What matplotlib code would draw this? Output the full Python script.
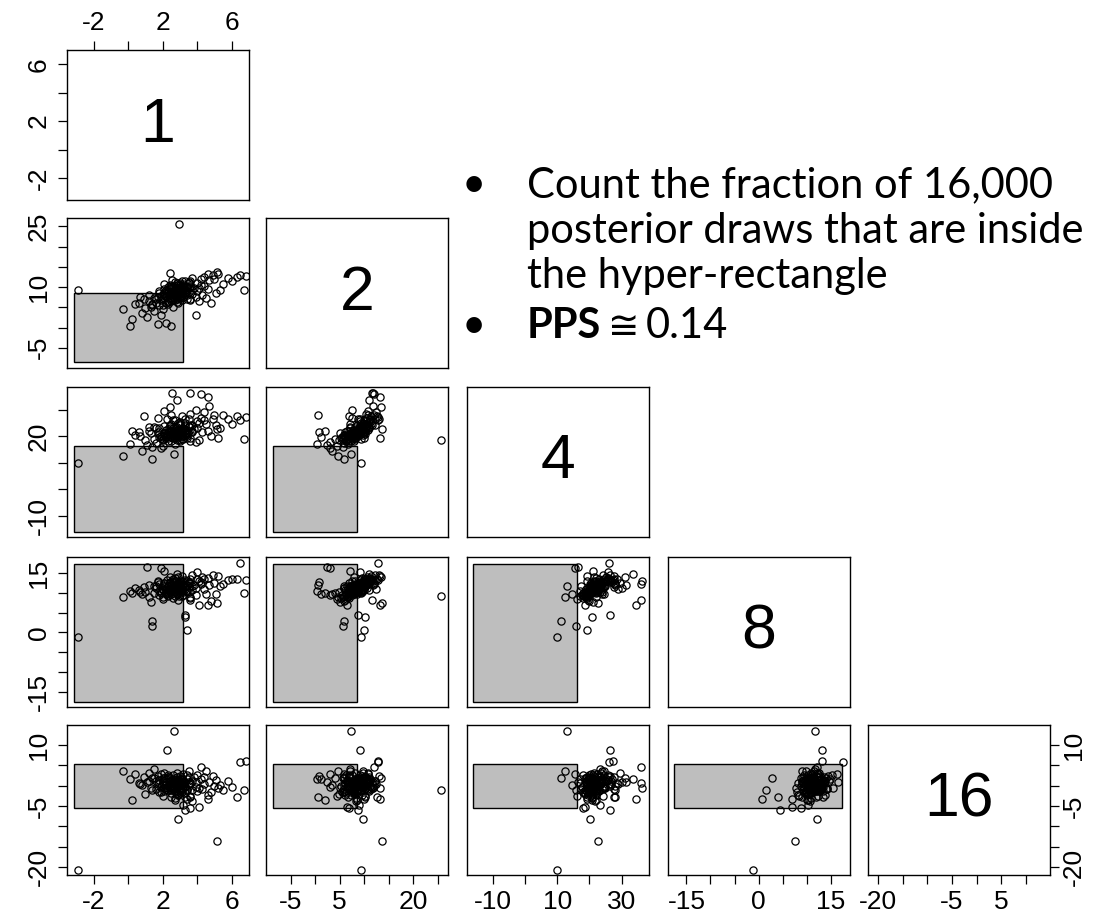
import numpy as np
import matplotlib.pyplot as plt
from matplotlib.patches import Rectangle

# posterior draws, one list per dimension (panel labels 1, 2, 4, 8, 16)
names = ['1', '2', '4', '8', '16']

v1 = [-2.9, 2.96, 2.68, 2.26, 5.17, 2.88, 6.5, 6.7, 0.1, 0.4,
      0.6, 0.8, 0.9, 1.0, 1.1, 1.2, 1.3, 1.4, 1.4, 1.5,
      1.6, 1.7, 1.7, 1.8, 1.8, 1.9, 1.9, 2.0, 2.0, 2.1,
      2.1, 2.2, 2.2, 2.3, 2.3, 2.4, 2.4, 2.4, 2.5, 2.5,
      2.5, 2.6, 2.6, 2.6, 2.7, 2.7, 2.7, 2.8, 2.8, 2.8,
      2.9, 2.9, 2.9, 3.0, 3.0, 3.0, 3.1, 3.1, 3.1, 3.2,
      3.2, 3.2, 3.3, 3.3, 3.4, 3.4, 3.4, 3.5, 3.5, 3.6,
      3.6, 3.7, 3.7, 3.8, 3.9, 3.9, 4.0, 4.0, 4.1, 4.2,
      4.3, 4.4, 4.5, 4.6, 4.7, 4.8, 4.9, 5.0, 5.1, 5.2,
      5.3, 5.5, 5.8, 6.0, 6.3, 6.8,
      2.0, 2.1, 2.2, 2.3, 2.4, 2.5, 2.5, 2.6, 2.6, 2.7,
      2.7, 2.8, 2.8, 2.9, 2.9, 3.0, 3.0, 3.1, 3.1, 3.2,
      3.2, 3.3, 3.3, 2.4, 2.6, 2.9, 3.0, 2.2, 2.7, 3.4,
      2.3, 3.5, 2.1, 2.8,
      4.2, 3.6, 4.6, 2.55, 3.3, -0.3, 0.2, 3.56, 1.5,
      1.6, 1.9, 2.1, 2.3, 2.5, 2.7, 2.9, 3.1, 3.3, 3.5,
      3.7, 1.8, 2.0, 2.4, 2.6, 2.8, 3.0, 3.2, 3.4, 3.6,
      2.2, 2.5, 2.9, 3.1, 1.2, 0.7, 4.1, 4.4, 2.7, 3.0]

v2 = [9.4, 25.6, 7.25, 9.1, 13.7, 9.8, 12.9, 9.4, 0.3, 5.8,
      6.2, 3.5, 7.0, 4.8, 2.5, 6.5, 5.0, 5.7, 5.9, 4.0,
      6.0, 0.8, 7.5, 5.5, 9.0, 3.0, 6.8, 8.2, 4.5, 10.8,
      7.2, 1.2, 6.0, 8.8, 5.8, 13.5, 7.0, 9.5, 0.5, 6.5,
      8.0, 10.0, 7.6, 5.2, 9.2, 8.5, 6.8, 11.0, 7.8, 9.8,
      8.9, 6.2, 10.5, 8.3, 9.6, 7.3, 10.2, 8.7, 11.5, 9.0,
      7.5, 10.8, 10.2, 9.3, 10.0, 10.0, 8.1, 11.2, 9.7, 6.8,
      10.4, 12.2, 8.4, 9.9, 3.0, 7.6, 11.0, 9.1, 6.5, 10.6,
      8.0, 12.5, 7.2, 9.5, 11.8, 6.0, 13.0, 12.0, 8.5, 13.3,
      9.2, 10.7, 12.3, 11.5, 12.6, 12.8,
      7.0, 8.5, 7.8, 6.6, 8.3, 7.3, 9.1, 8.8, 6.9, 7.9,
      9.4, 8.6, 7.1, 9.7, 8.0, 9.3, 7.7, 8.9, 9.9, 8.2,
      10.3, 8.6, 9.4, 9.7, 10.4, 7.4, 10.6, 9.3, 8.2, 9.0,
      10.1, 8.7, 8.0, 10.9,
      12.0, 11.6, 13.2, 11.8, 8.7, 4.7, 2.0, 7.0, 7.2,
      7.1, 7.9, 9.6, 6.4, 10.2, 11.3, 8.1, 6.7, 11.6, 10.9,
      9.3, 8.6, 5.6, 10.6, 9.0, 6.3, 11.1, 9.5, 7.0, 10.1,
      7.7, 8.9, 9.2, 7.9, 8.1, 7.6, 9.8, 10.3, 8.4, 8.9]

v4 = [9.8, 18.5, 13.1, 26.3, 22.7, 20.3, 26.0, 18.9, 17.0, 20.5,
      21.5, 14.5, 27.5, 18.5, 16.5, 22.0, 21.0, 15.8, 11.2, 19.0,
      17.5, 21.5, 26.8, 19.8, 23.0, 15.5, 20.2, 18.8, 16.2, 29.5,
      21.2, 19.5, 20.6, 22.5, 19.4, 31.0, 21.8, 24.0, 28.0, 20.0,
      18.2, 26.0, 21.0, 19.2, 23.5, 20.8, 17.2, 33.5, 22.2, 21.5,
      20.4, 19.6, 25.0, 22.8, 24.5, 18.0, 21.9, 20.1, 27.5, 23.2,
      19.0, 22.4, 20.9, 24.8, 19.4, 21.3, 20.7, 26.5, 23.8, 19.3,
      28.5, 24.2, 21.6, 22.6, 17.6, 30.0, 23.0, 25.8, 18.6, 27.0,
      21.4, 29.0, 24.6, 22.0, 31.5, 20.0, 26.3, 28.0, 24.0, 19.2,
      22.9, 27.8, 26.6, 24.4, 27.6, 27.2,
      20.0, 21.0, 19.5, 20.3, 20.9, 19.7, 22.1, 21.3, 20.5, 21.7,
      22.7, 20.6, 19.9, 22.3, 21.1, 21.8, 20.4, 22.6, 21.4, 20.2,
      23.0, 21.9, 22.2, 23.1, 22.9, 20.7, 24.0, 22.4, 19.3, 21.0,
      21.6, 22.0, 20.6, 23.6,
      35.9, 36.1, 34.6, 36.2, 26.3, 12.5, 22.0, 18.0, 23.4,
      22.9, 19.2, 23.7, 18.1, 24.6, 25.9, 21.2, 19.0, 24.1, 23.3,
      22.1, 20.9, 18.6, 23.9, 21.7, 18.7, 25.3, 22.6, 20.0, 24.3,
      19.8, 21.5, 22.4, 20.8, 23.6, 20.2, 24.9, 26.1, 20.9, 22.0]

v8 = [-1.2, 9.2, 11.8, 13.3, 7.5, 12.2, 17.6, 9.9, 10.5, 11.2,
      10.8, 9.6, 11.5, 10.2, 16.5, 9.0, 7.8, 1.5, 2.9, 10.0,
      11.6, 12.8, 13.0, 9.5, 12.2, 16.3, 10.4, 11.0, 8.5, 12.5,
      15.6, 9.8, 11.3, 10.6, 9.2, 14.0, 12.4, 10.1, 11.9, 10.7,
      9.7, 13.4, 11.1, 8.8, 12.0, 10.3, 9.3, 14.8, 11.7, 10.9,
      12.6, 8.2, 13.9, 10.5, 11.4, 9.9, 12.9, 11.0, 14.3, 10.2,
      9.5, 12.3, 4.0, 11.8, 0.7, 13.1, 10.6, 12.7, 11.5, 9.0,
      13.6, 14.6, 10.8, 12.1, 9.4, 11.3, 13.5, 15.2, 7.0, 12.8,
      14.0, 11.0, 9.8, 13.8, 12.0, 8.0, 14.5, 12.6, 9.6, 14.2,
      11.6, 12.3, 13.2, 13.5, 13.4, 13.3,
      10.8, 11.4, 10.0, 11.6, 10.5, 11.2, 12.1, 10.9, 10.2, 11.5,
      12.4, 10.7, 9.8, 11.9, 11.1, 10.4, 12.0, 11.3, 10.6, 11.8,
      12.2, 10.9, 11.6, 11.0, 12.7, 10.0, 11.2, 10.3, 12.9, 11.9,
      11.4, 10.1, 12.0, 10.8,
      12.2, 8.3, 6.9, 13.0, 4.4, 9.0, 10.0, 8.8, 11.8,
      11.3, 9.9, 12.6, 9.4, 11.8, 13.7, 10.6, 9.1, 13.2, 12.5,
      11.7, 10.4, 8.9, 12.8, 11.3, 9.6, 13.0, 11.9, 10.2, 12.4,
      10.7, 11.6, 12.3, 10.9, 12.1, 10.3, 12.9, 13.6, 11.0, 11.7]

v16 = [-20.8, -1.0, 13.5, 8.85, -13.6, -8.3, 5.7, -1.0, 1.5, 2.8,
       0.6, 0.2, 2.0, -2.1, 0.9, 1.2, -0.5, -1.0, 1.8, 1.8,
       -0.9, 2.4, 0.4, -1.5, 1.3, 2.9, -0.3, 0.8, -2.6, 3.0,
       -0.7, 1.6, 0.2, -1.1, 2.2, 1.9, -0.4, 0.9, -2.8, 1.4,
       -1.8, 0.5, 2.6, -0.2, 1.0, -3.5, 0.7, 1.7, -1.3, 3.2,
       0.1, -2.3, 1.1, -0.6, 2.4, -1.6, 0.3, 1.9, -0.8, -4.8,
       0.9, 2.8, -2.8, 0.0, -3.2, -1.2, 1.6, -0.1, 3.5, -2.7,
       0.6, 1.2, -3.9, 2.1, -0.4, 0.8, -1.4, 2.6, -5.3, 1.5,
       -0.9, 0.3, 3.6, -2.2, 1.0, -1.7, 2.3, -0.2, 1.3, -0.5,
       0.1, -1.0, 1.1, -0.3, -2.9, 6.0,
       0.5, 1.8, -0.9, 0.0, 1.2, -1.0, 0.4, 1.6, -0.5, 0.9,
       -1.4, 0.2, 2.0, -0.2, 1.3, 0.7, -1.1, 0.1, 1.7, -0.6,
       0.8, -1.9, 1.0, -0.1, 0.6, -2.4, 1.5, -0.3, 0.3, -0.8,
       2.0, 0.4, -1.3, 1.2,
       4.5, 0.7, -3.2, -0.6, -6.1, 3.7, -3.5, -5.5, 4.1,
       1.1, -1.6, 0.3, 2.5, -0.7, 1.4, -2.1, 0.8, -0.4, 2.2,
       -1.2, 0.6, 1.9, -0.9, 0.0, -1.8, 1.6, -0.2, 2.7, -2.5,
       0.9, -0.5, 1.3, -1.5, 3.1, 0.4, -0.6, 2.0, -3.0, 0.5]

# hyper-rectangle bounds for each dimension
rect_lo = [-3.15, -8.6, -16.2, -17.5, -5.5]
rect_hi = [3.15, 8.6, 16.2, 17.4, 5.4]

lims = [(-3.55, 7.0), (-10.0, 27.1), (-18.0, 38.5), (-18.85, 19.05), (-22.0, 14.9)]
ticks = [[-2, 0, 2, 4, 6],
         [-5, 0, 5, 10, 15, 20, 25],
         [-10, 0, 10, 20, 30],
         [-15, -10, -5, 0, 5, 10, 15],
         [-20, -15, -10, -5, 0, 5, 10]]
xlab = [[-2, 2, 6], [-5, 5, 20], [-10, 10, 30], [-15, 0, 15], [-20, -5, 5]]
ylab = [[-2, 2, 6], [-5, 10, 25], [-10, 20], [-15, 0, 15], [-20, -5, 10]]

data = [v1, v2, v4, v8, v16]
for d in data:
    assert len(d) == len(v1)

W, H = 1105, 914
fig = plt.figure(figsize=(W / 100, H / 100), dpi=100)
fig.patch.set_facecolor('white')

lefts = [67, 266, 467, 668, 868]
tops = [50, 218, 387, 557, 725]
pw, ph = 182, 150
tickfont = 'Liberation Sans'
tfs = 19


def labels(tk, keep):
    return [str(t) if t in keep else '' for t in tk]


for i in range(5):
    for j in range(i + 1):
        ax = fig.add_axes([lefts[j] / W, 1 - (tops[i] + ph) / H, pw / W, ph / H])
        ax.set_xlim(lims[j])
        ax.set_ylim(lims[i])
        for s in ax.spines.values():
            s.set_linewidth(1.0)
        ax.tick_params(left=False, bottom=False, labelleft=False, labelbottom=False,
                       direction='out', length=6.5, width=0.9)
        if i == j:
            ax.text(0.5, 0.5, names[i], transform=ax.transAxes, ha='center', va='center',
                    fontsize=45, family=tickfont)
        else:
            r = Rectangle((rect_lo[j], rect_lo[i]), rect_hi[j] - rect_lo[j],
                          rect_hi[i] - rect_lo[i], facecolor='#bebebe',
                          edgecolor='black', linewidth=1.0, zorder=1)
            ax.add_patch(r)
            ax.plot(data[j], data[i], 'o', mfc='none', mec='black', ms=5.2,
                    mew=0.9, zorder=2)
        ax.set_xticks(ticks[j])
        ax.set_yticks(ticks[i])
        ax.set_xticklabels(labels(ticks[j], xlab[j]), family=tickfont, fontsize=tfs)
        ax.set_yticklabels(labels(ticks[i], ylab[i]), family=tickfont, fontsize=tfs,
                           rotation=90, va='center')
        if j == 0:
            ax.tick_params(axis='y', left=True, labelleft=True, pad=5)
        if i == 4:
            ax.tick_params(axis='x', bottom=True, labelbottom=True, pad=4)
        if i == 0 and j == 0:
            ax.tick_params(axis='x', top=True, labeltop=True, pad=4)
        if i == 4 and j == 4:
            ax.tick_params(axis='y', right=True, labelright=True, pad=2)
            for lab in ax.get_yticklabels():
                lab.set_va('center')

# bullet text on the right
txtfont = ['Lato', 'DejaVu Sans']
fs = 30
tx = 527 / W
bx = 474 / W
lines = [(197, 'Count the fraction of 16,000'),
         (243, 'posterior draws that are inside'),
         (288, 'the hyper-rectangle')]
for yb, s in lines:
    fig.text(tx, 1 - yb / H, s, fontsize=fs, family=txtfont, va='baseline', ha='left')
fig.text(bx, 1 - 197 / H, '\u2022', fontsize=fs, family=txtfont, va='baseline', ha='center')
fig.text(bx, 1 - 338 / H, '\u2022', fontsize=fs, family=txtfont, va='baseline', ha='center')

t1 = fig.text(tx, 1 - 338 / H, 'PPS', fontsize=fs, family=txtfont, weight='bold',
              va='baseline', ha='left')
fig.canvas.draw()
x1 = t1.get_window_extent().x1
t2 = fig.text((x1 + 7) / W, 1 - 338 / H, '\u2245', fontsize=fs - 3, family=['DejaVu Sans'],
              va='baseline', ha='left')
fig.canvas.draw()
x2 = t2.get_window_extent().x1
fig.text((x2 + 6) / W, 1 - 338 / H, '0.14', fontsize=fs, family=txtfont,
         va='baseline', ha='left')

fig.savefig('out.png', dpi=100)
